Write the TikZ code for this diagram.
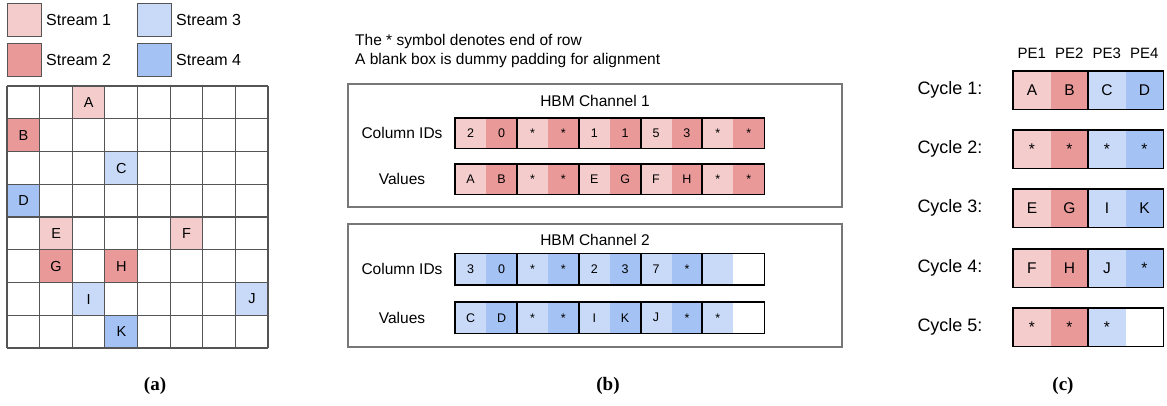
\documentclass[tikz,border=0pt]{standalone}
\usepackage{fontspec}
\setmainfont{Liberation Sans}
\newfontfamily\capfont{Liberation Serif}
\definecolor{sone}{HTML}{F4CCCC}
\definecolor{stwo}{HTML}{EA9999}
\definecolor{sthree}{HTML}{C9DAF8}
\definecolor{sfour}{HTML}{A4C2F4}
\definecolor{gridgray}{HTML}{555555}
\definecolor{boxgray}{HTML}{777777}
\begin{document}
\begin{tikzpicture}[x=1pt,y=-1pt,
  lgbox/.style={draw=gridgray,line width=0.8pt,minimum width=34pt,minimum height=33pt,inner sep=0pt,anchor=north west},
  lgtext/.style={anchor=west,inner sep=0pt,font=\fontsize{16}{19}\selectfont},
  gcell/.style={minimum width=32.6pt,minimum height=32.75pt,inner sep=0pt,anchor=north west,font=\fontsize{14.5}{16}\selectfont},
  gridline/.style={draw=gridgray,line width=1.1pt},
  hcell/.style={minimum width=30.9pt,inner sep=0pt,anchor=north west,font=\fontsize{12.5}{14}\selectfont},
  pairbox/.style={draw=black,line width=1.6pt},
  chanbox/.style={draw=boxgray,line width=1.3pt},
  lbl/.style={inner sep=0pt,font=\fontsize{15.5}{18}\selectfont},
  pelbl/.style={inner sep=0pt,font=\fontsize{15}{18}\selectfont},
  ccell/.style={minimum width=37.5pt,minimum height=38pt,inner sep=0pt,anchor=north west,font=\fontsize{15.5}{18}\selectfont},
  cyc/.style={inner sep=0pt,font=\fontsize{18}{21}\selectfont},
  captext/.style={inner sep=0pt,font=\capfont\bfseries\fontsize{19}{22}\selectfont}]
\useasboundingbox (0,0) rectangle (1167,405);

% ---------------- (a) legend ----------------
\node[lgbox,fill=sone] (l1) at (7,3) {};
\node[lgtext] (t1) at (46,20) {Stream 1};
\node[lgbox,fill=stwo] (l2) at (7,43) {};
\node[lgtext] (t2) at (46,60) {Stream 2};
\node[lgbox,fill=sthree] (l3) at (137,3) {};
\node[lgtext] (t3) at (176,20) {Stream 3};
\node[lgbox,fill=sfour] (l4) at (137,43) {};
\node[lgtext] (t4) at (176,60) {Stream 4};

% ---------------- (a) grid ----------------
\foreach \n/\c/\r/\f in {A/2/0/sone, B/0/1/stwo, C/3/2/sthree, D/0/3/sfour,
  E/1/4/sone, F/5/4/sone, G/1/5/stwo, H/3/5/stwo, I/2/6/sthree, J/7/6/sthree, K/3/7/sfour}
  \node[gcell,fill=\f] (g\n) at ({7+\c*32.625},{86+\r*32.75}) {\n};
\foreach \k in {0,...,8} {
  \draw[gridline] ({7+\k*32.625},86) -- ({7+\k*32.625},348);
  \draw[gridline] (7,{86+\k*32.75}) -- (268,{86+\k*32.75});
}

% ---------------- (b) ----------------
\node[lbl,anchor=west] (n1) at (355,41) {The * symbol denotes end of row};
\node[lbl,anchor=west] (n2) at (355,60) {A blank box is dummy padding for alignment};

\draw[chanbox] (348,84) rectangle (842,207);
\node[lbl] (h1) at (595,101) {HBM Channel 1};
\node[lbl] (r1a) at (402,133) {Column IDs};
\node[lbl] (r1b) at (402,179) {Values};
\foreach \t/\f [count=\i from 0] in {2/sone,0/stwo,*/sone,*/stwo,1/sone,1/stwo,5/sone,3/stwo,*/sone,*/stwo}
  \node[hcell,minimum height=30pt,fill=\f] (a\i) at ({455+\i*30.9},118) {\t};
\foreach \t/\f [count=\i from 0] in {A/sone,B/stwo,*/sone,*/stwo,E/sone,G/stwo,F/sone,H/stwo,*/sone,*/stwo}
  \node[hcell,minimum height=30pt,fill=\f] (b\i) at ({455+\i*30.9},164) {\t};

\draw[chanbox] (348,224) rectangle (842,347);
\node[lbl] (h2) at (595,240) {HBM Channel 2};
\node[lbl] (r2a) at (402,269) {Column IDs};
\node[lbl] (r2b) at (402,318) {Values};
\foreach \t/\f [count=\i from 0] in {3/sthree,0/sfour,*/sthree,*/sfour,2/sthree,3/sfour,7/sthree,*/sfour,\relax/sthree,\relax/white}
  \node[hcell,minimum height=31pt,fill=\f] (c\i) at ({455+\i*30.9},253.5) {\t};
\foreach \t/\f [count=\i from 0] in {C/sthree,D/sfour,*/sthree,*/sfour,I/sthree,K/sfour,J/sthree,*/sfour,*/sthree,\relax/white}
  \node[hcell,minimum height=31pt,fill=\f] (d\i) at ({455+\i*30.9},302) {\t};

\foreach \p in {0,...,4} {
  \pgfmathtruncatemacro\pa{2*\p}
  \pgfmathtruncatemacro\pb{2*\p+1}
  \foreach \row in {a,b,c,d}
    \draw[pairbox] (\row\pa.north west) rectangle (\row\pb.south east);
}

% ---------------- (c) ----------------
\foreach \t [count=\i from 0] in {PE1,PE2,PE3,PE4}
  \node[pelbl] (pe\i) at ({1031.75+\i*37.5},53) {\t};

\foreach \r/\y/\ta/\tb/\tc/\td/\fd in {1/71/A/B/C/D/sfour, 2/130/*/*/*/*/sfour, 3/189/E/G/I/K/sfour, 4/249/F/H/J/*/sfour, 5/308/*/*/*/\relax/white} {
  \node[cyc] (cy\r) at (950,{\y+19}) {Cycle \r:};
  \node[ccell,fill=sone] (p\r a) at (1013,\y) {\ta};
  \node[ccell,fill=stwo] (p\r b) at (1050.5,\y) {\tb};
  \node[ccell,fill=sthree] (p\r c) at (1088,\y) {\tc};
  \node[ccell,fill=\fd] (p\r d) at (1125.5,\y) {\td};
  \draw[pairbox] (p\r a.north west) rectangle (p\r b.south east);
  \draw[pairbox] (p\r c.north west) rectangle (p\r d.south east);
}

% ---------------- captions ----------------
\node[captext] (ca) at (155,386) {(a)};
\node[captext] (cb) at (608,386) {(b)};
\node[captext] (cc) at (1063,386) {(c)};
\end{tikzpicture}
\end{document}
